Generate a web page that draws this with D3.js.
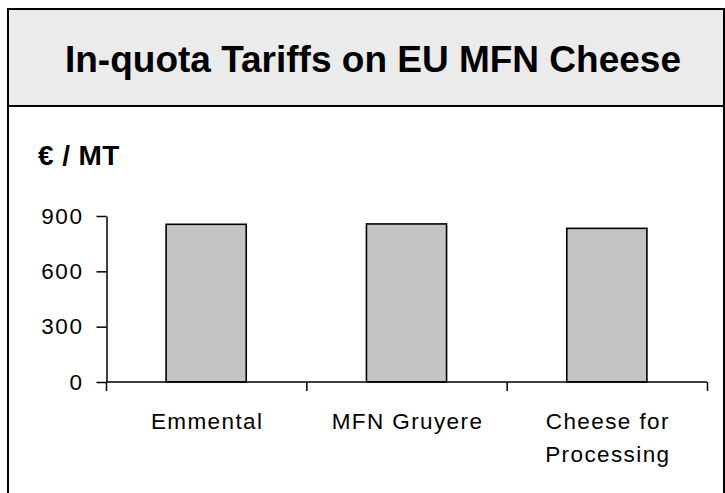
<!DOCTYPE html>
<html>
<head>
<meta charset="utf-8">
<script src="https://cdn.jsdelivr.net/npm/d3@7"></script>
<style>
  html, body { margin: 0; padding: 0; background: #fff; }
  svg { display: block; font-family: "Liberation Sans", Arial, sans-serif; }
</style>
</head>
<body>
<div class="Chart"></div>
<script>
const categories = ["Emmental", "MFN Gruyere", "Cheese for Processing"];
const categoryLines = [["Emmental"], ["MFN Gruyere"], ["Cheese for", "Processing"]];
const tariffs = [855, 857, 833];
const yTicks = [0, 300, 600, 900];
const titleText = "In-quota Tariffs on EU MFN Cheese";
const unitText = "€ / MT";

const w = 725;
const h = 493;

const svg = d3
  .select(".Chart")
  .append("svg")
  .attr("width", w)
  .attr("height", h);

// frame + title box
svg
  .append("rect")
  .attr("x", 8)
  .attr("y", 9)
  .attr("width", 716)
  .attr("height", 520)
  .attr("fill", "#fff")
  .attr("stroke", "#000")
  .attr("stroke-width", 2);

svg
  .append("rect")
  .attr("x", 8)
  .attr("y", 9)
  .attr("width", 716)
  .attr("height", 97)
  .attr("fill", "#ebebeb")
  .attr("stroke", "#000")
  .attr("stroke-width", 2);

svg
  .append("text")
  .attr("x", 373)
  .attr("y", 72)
  .attr("text-anchor", "middle")
  .style("font-size", "37px")
  .style("font-weight", "bold")
  .text(titleText);

svg
  .append("text")
  .attr("x", 38)
  .attr("y", 165)
  .style("font-size", "28px")
  .style("font-weight", "bold")
  .style("letter-spacing", "0.4px")
  .text(unitText);

const xScale = d3
  .scaleBand()
  .domain(categories)
  .range([106, 707])
  .paddingInner(0.6)
  .paddingOuter(0.3);

const xBands = d3.scaleBand().domain(categories).range([106, 707]).padding(0);

const yScale = d3.scaleLinear().domain([0, 900]).range([382, 216]);

// bars
svg
  .selectAll("rect.bar")
  .data(tariffs)
  .enter()
  .append("rect")
  .attr("class", "bar")
  .attr("x", (d, i) => xScale(categories[i]))
  .attr("y", d => yScale(d))
  .attr("width", xScale.bandwidth())
  .attr("height", d => yScale(0) - yScale(d))
  .attr("fill", "#c4c4c4")
  .attr("stroke", "#000")
  .attr("stroke-width", 1.6);

// y axis
const yAxis = d3
  .axisLeft(yScale)
  .tickValues(yTicks)
  .tickSize(10)
  .tickSizeOuter(0)
  .tickPadding(13);

const yG = svg
  .append("g")
  .attr("transform", "translate(106.5,0)")
  .call(yAxis);
yG.selectAll("path, line").attr("stroke", "#000").attr("stroke-width", 1.5);
yG.selectAll("text")
  .style("font-size", "22.5px")
  .style("letter-spacing", "1.6px")
  .style("font-family", "'Liberation Sans', Arial, sans-serif")
  .attr("fill", "#000");

// x axis: line, boundary ticks, multi-line labels
const xG = svg.append("g").attr("transform", "translate(0," + yScale(0) + ")");

xG.append("line")
  .attr("x1", xBands.range()[0])
  .attr("x2", xBands.range()[1])
  .attr("stroke", "#000")
  .attr("stroke-width", 1.5);

const bounds = categories.map(c => xBands(c)).concat([xBands.range()[1]]);
xG.selectAll("line.tick")
  .data(bounds)
  .enter()
  .append("line")
  .attr("class", "tick")
  .attr("x1", d => d + 0.5)
  .attr("x2", d => d + 0.5)
  .attr("y1", 0)
  .attr("y2", 9)
  .attr("stroke", "#000")
  .attr("stroke-width", 1.5);

const labels = xG
  .selectAll("text.cat")
  .data(categories)
  .enter()
  .append("text")
  .attr("class", "cat")
  .attr("text-anchor", "middle")
  .attr("x", d => xBands(d) + xBands.bandwidth() / 2 + 1)
  .attr("y", 47)
  .style("font-size", "22.5px")
  .style("letter-spacing", "1.4px");

labels
  .selectAll("tspan")
  .data((d, i) => categoryLines[i])
  .enter()
  .append("tspan")
  .attr("x", function() { return d3.select(this.parentNode).attr("x"); })
  .attr("dy", (d, i) => (i === 0 ? 0 : 33))
  .text(d => d);
</script>
</body>
</html>
